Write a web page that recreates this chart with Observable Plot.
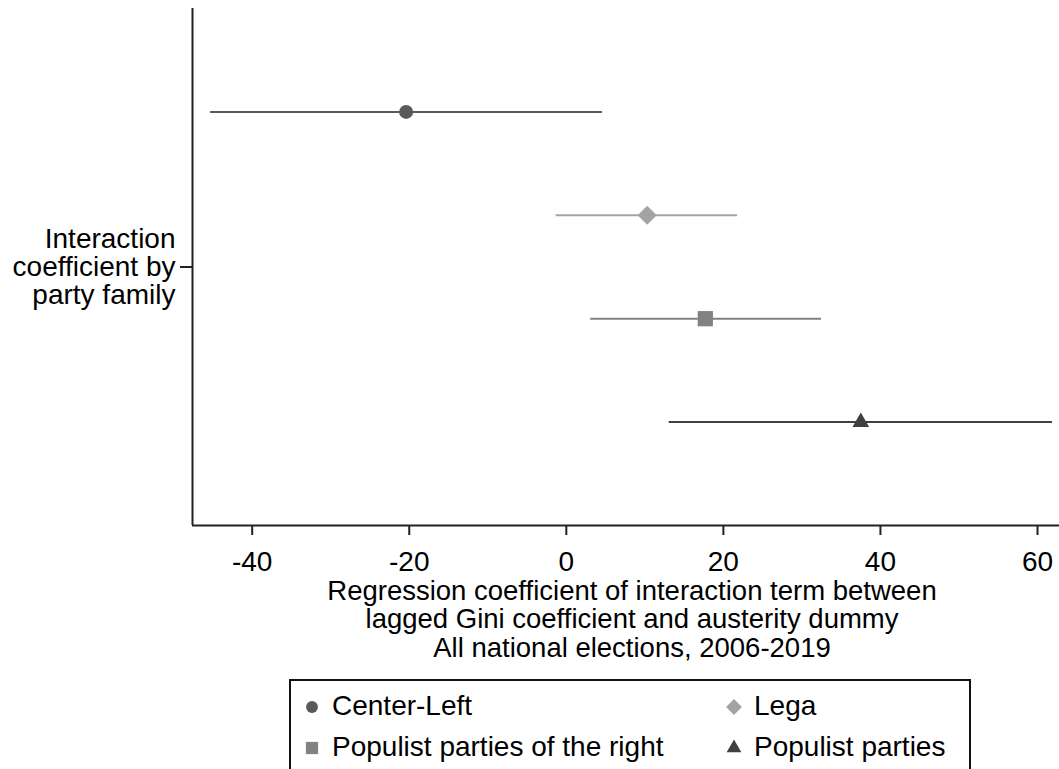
<!DOCTYPE html>
<html>
<head>
<meta charset="utf-8">
<script src="https://cdn.jsdelivr.net/npm/d3@7"></script>
<script src="https://cdn.jsdelivr.net/npm/@observablehq/plot@0.6"></script>
<style>
  html, body { margin: 0; padding: 0; background: #fff; overflow: hidden; }
  body { width: 1059px; height: 769px; position: relative; font-family: "Liberation Sans", Arial, sans-serif; }
  #chart { position: absolute; left: 0; top: 0; }
  #legend { position: absolute; left: 289px; top: 679px; width: 682px; height: 110px; box-sizing: border-box; border: 2px solid #111; }
  .item { position: absolute; display: flex; align-items: center; font-size: 28px; color: #000; white-space: nowrap; line-height: 1; }
  .item svg { margin-right: 9px; }
</style>
</head>
<body>
<div id="chart"></div>
<div id="legend"></div>
<script>
// ---- data ----
const series = ["Center-Left", "Lega", "Populist parties of the right", "Populist parties"];
const rows = [1, 2, 3, 4];
const estimates = [-20.4, 10.3, 17.7, 37.5];
const lower = [-45.3, -1.3, 3.1, 13.1];
const upper = [4.6, 21.8, 32.5, 61.9];
const xTicks = [-40, -20, 0, 20, 40, 60];
const xDomain = [-47.6, 62.8];
const yDomain = [0, 5];
const yTickLabel = "Interaction\ncoefficient by\nparty family";
const xTitle = "Regression coefficient of interaction term between\nlagged Gini coefficient and austerity dummy\nAll national elections, 2006-2019";

// ---- styles ----
const colors = ["#5a5a5a", "#a3a3a3", "#828282", "#404040"];
const symbols = ["circle", "diamond2", "square", "triangle"];
const markerR = [7, 8.6, 8.6, 6.2];
const legendSize = [110, 160, 150, 95];

const data = series.map((s, i) => ({
  series: s, row: rows[i], est: estimates[i], lo: lower[i], hi: upper[i],
  color: colors[i], symbol: symbols[i], r: markerR[i]
}));

const chart = Plot.plot({
  width: 1059,
  height: 668,
  marginLeft: 192,
  marginRight: 0,
  marginTop: 8,
  marginBottom: 143,
  style: { fontFamily: "'Liberation Sans', Arial, sans-serif", fontSize: "28px", color: "#000", background: "#fff", overflow: "visible" },
  x: { domain: xDomain },
  y: { domain: yDomain, reverse: true },
  marks: [
    Plot.ruleY(data, { y: "row", x1: "lo", x2: "hi", stroke: "color", strokeWidth: 2 }),
    ...data.map(d => Plot.dot([d], { x: "est", y: "row", symbol: () => d.symbol, r: d.r, fill: d.color, stroke: "none" })),
    Plot.axisX({ ticks: xTicks, tickFormat: d => String(d), tickSize: 10, tickPadding: 16, fontSize: 28, label: null, stroke: "#222", strokeWidth: 2, color: "#000" }),
    Plot.axisY({ ticks: [2.5], tickFormat: () => yTickLabel, tickSize: 12, tickPadding: 5, fontSize: 28, lineHeight: 1.0, label: null, stroke: "#222", strokeWidth: 2 }),
    Plot.ruleX([xDomain[0]], { stroke: "#222", strokeWidth: 2 }),
    Plot.ruleY([yDomain[1]], { stroke: "#222", strokeWidth: 2 }),
    Plot.text([xTitle], { text: d => d, frameAnchor: "bottom", lineAnchor: "top", dy: 55, dx: 6, fontSize: 27.5, lineHeight: 1.02, fill: "#000" })
  ]
});
document.getElementById("chart").appendChild(chart);

// ---- legend ----
const symMap = { circle: d3.symbolCircle, square: d3.symbolSquare, diamond2: d3.symbolDiamond2 || d3.symbolSquare, triangle: d3.symbolTriangle };
const legendPos = [[10, 25], [432, 25], [10, 66], [432, 66]];
const legend = document.getElementById("legend");
series.forEach((s, i) => {
  const [lx, ly] = legendPos[i];
  const div = document.createElement("div");
  div.className = "item";
  div.style.left = lx + "px";
  div.style.top = (ly - 14) + "px";
  const svg = d3.create("svg").attr("width", 22).attr("height", 28);
  svg.append("path")
    .attr("transform", "translate(11,15)" + (symbols[i] === "diamond2" && !d3.symbolDiamond2 ? " rotate(45)" : ""))
    .attr("d", d3.symbol(symMap[symbols[i]], legendSize[i])())
    .attr("fill", colors[i]);
  div.appendChild(svg.node());
  const span = document.createElement("span");
  span.textContent = s;
  div.appendChild(span);
  legend.appendChild(div);
});
</script>
</body>
</html>
